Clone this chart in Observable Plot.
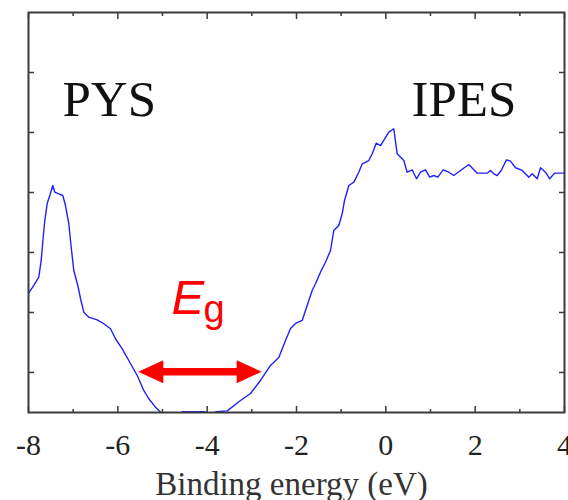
<!DOCTYPE html>
<html>
<head>
<meta charset="utf-8">
<script src="https://cdn.jsdelivr.net/npm/d3@7"></script>
<script src="https://cdn.jsdelivr.net/npm/@observablehq/plot@0.6"></script>
<style>
  html, body { margin: 0; padding: 0; background: #fff; }
  #chart { width: 568px; height: 500px; }
</style>
</head>
<body>
<div id="chart"></div>
<script>
// Spectrum (binding energy in eV, intensity in arbitrary units)
const energy = [
  -8, -7.881, -7.769, -7.716, -7.671, -7.635, -7.581, -7.523, -7.456, -7.411,
  -7.322, -7.232, -7.172, -7.098, -7.044, -6.986, -6.896, -6.836, -6.762, -6.65,
  -6.462, -6.314, -6.164, -6.052, -5.902, -5.755, -5.566, -5.419, -5.307, -5.157,
  -5.045, -4.8, -4.55, -4.05, -3.95, -3.8, -3.551, -3.254, -3.03, -2.806,
  -2.582, -2.396, -2.246, -2.134, -2.022, -1.872, -1.761, -1.649, -1.575, -1.463,
  -1.351, -1.239, -1.165, -1.053, -0.977, -0.925, -0.829, -0.717, -0.605, -0.529,
  -0.381, -0.305, -0.216, -0.119, 0.066, 0.178, 0.254, 0.402, 0.477, 0.59,
  0.687, 0.776, 0.888, 0.984, 1.074, 1.163, 1.284, 1.41, 1.522, 1.672,
  1.858, 2.045, 2.269, 2.343, 2.417, 2.493, 2.583, 2.701, 2.791, 2.903,
  3.053, 3.201, 3.277, 3.389, 3.463, 3.575, 3.671, 3.776, 4.0
];
const intensity = [
  1.317, 1.45, 1.588, 1.867, 2.255, 2.533, 2.817, 2.95, 3.117, 3.005,
  2.978, 2.95, 2.783, 2.483, 2.088, 1.7, 1.45, 1.233, 1.005, 0.922,
  0.878, 0.812, 0.728, 0.562, 0.395, 0.2, -0.05, -0.3, -0.438, -0.578,
  -0.66, -0.75, -0.655, -0.655, -0.72, -0.655, -0.64, -0.467, -0.35, -0.133,
  0.117, 0.25, 0.533, 0.733, 0.817, 0.867, 1.117, 1.367, 1.478, 1.672,
  1.838, 2.033, 2.367, 2.45, 2.645, 2.867, 3.117, 3.172, 3.338, 3.478,
  3.533, 3.645, 3.822, 3.783, 4.005, 4.062, 3.645, 3.533, 3.338, 3.378,
  3.228, 3.338, 3.378, 3.255, 3.283, 3.255, 3.378, 3.338, 3.283, 3.367,
  3.467, 3.322, 3.322, 3.367, 3.312, 3.283, 3.367, 3.545, 3.522, 3.412,
  3.367, 3.255, 3.312, 3.228, 3.412, 3.338, 3.228, 3.322, 3.322
];

// Axes
const xDomain = [-8, 4];
const yDomain = [-0.667, 6];
const xMajorTicks = [-8, -6, -4, -2, 0, 2, 4];
const xMinorTicks = [-7, -5, -3, -1, 1, 3];
const yTicks = [0, 1, 2, 3, 4, 5];
const xLabel = "Binding energy (eV)";

// Annotations (data coordinates)
const regionLabels = ["PYS", "IPES"];
const regionLabelX = [-7.24, 0.575];
const regionLabelY = [4.283, 4.283];
const gapSymbol = "E";
const gapSubscript = "g";
const gapSymbolPos = [-4.80, 0.983];
const gapSubscriptPos = [-4.08, 0.843];
const gapArrowFrom = -5.531;
const gapArrowTo = -2.768;
const gapArrowLevel = 0.005;

const spectrum = energy.map((e, i) => ({energy: e, intensity: intensity[i]}));
const regions = regionLabels.map((t, i) => ({text: t, x: regionLabelX[i], y: regionLabelY[i]}));

const serif = "'Liberation Serif', 'Times New Roman', Times, serif";
const sans = "'Liberation Sans', Arial, Helvetica, sans-serif";
const axisColor = "#3a3a3a";

function gapArrow(index, scales) {
  const x1 = scales.x(gapArrowFrom), x2 = scales.x(gapArrowTo), yy = scales.y(gapArrowLevel);
  const h = 25, hw = 11.5, sw = 3.8;
  const d = `M${x1},${yy}L${x1 + h},${yy - hw}L${x1 + h},${yy - sw}L${x2 - h},${yy - sw}L${x2 - h},${yy - hw}L${x2},${yy}L${x2 - h},${yy + hw}L${x2 - h},${yy + sw}L${x1 + h},${yy + sw}L${x1 + h},${yy + hw}Z`;
  return d3.create("svg:path").attr("d", d).attr("fill", "#ff0000").node();
}

const chart = Plot.plot({
  width: 568,
  height: 500,
  marginLeft: 28,
  marginRight: 4,
  marginTop: 12,
  marginBottom: 88,
  style: {background: "#fff", fontFamily: serif, color: axisColor},
  x: {domain: xDomain, axis: null},
  y: {domain: yDomain, axis: null},
  marks: [
    // inward ticks, all four sides
    Plot.axisX({anchor: "bottom", ticks: xMajorTicks, tickSize: 6, dy: -6, tickFormat: () => "", label: null, stroke: axisColor, strokeWidth: 1.5}),
    Plot.axisX({anchor: "bottom", ticks: xMinorTicks, tickSize: 3, dy: -3, tickFormat: () => "", label: null, stroke: axisColor, strokeWidth: 1.5}),
    Plot.axisX({anchor: "top", ticks: xMajorTicks, tickSize: 6, dy: 6, tickFormat: () => "", label: null, stroke: axisColor, strokeWidth: 1.5}),
    Plot.axisX({anchor: "top", ticks: xMinorTicks, tickSize: 3, dy: 3, tickFormat: () => "", label: null, stroke: axisColor, strokeWidth: 1.5}),
    Plot.axisY({anchor: "left", ticks: yTicks, tickSize: 6, dx: 6, tickFormat: () => "", label: null, stroke: axisColor, strokeWidth: 1.5}),
    Plot.axisY({anchor: "right", ticks: yTicks, tickSize: 6, dx: -6, tickFormat: () => "", label: null, stroke: axisColor, strokeWidth: 1.5}),
    // tick labels
    Plot.text(xMajorTicks, {x: d => d, text: d => String(d), frameAnchor: "bottom", lineAnchor: "bottom", dy: 42, fontSize: 30, fontFamily: serif, fill: "#222"}),
    // axis title
    Plot.text([xLabel], {text: d => d, frameAnchor: "bottom", lineAnchor: "bottom", dy: 82, dx: -5, fontSize: 33, fontFamily: serif, fill: "#333"}),
    // spectrum
    Plot.line(spectrum, {x: "energy", y: "intensity", stroke: "#2020ff", strokeWidth: 1.4, clip: true}),
    Plot.frame({stroke: axisColor, strokeWidth: 2}),
    // region labels
    Plot.text(regions, {x: "x", y: "y", text: "text", textAnchor: "start", lineAnchor: "bottom", fontSize: 51, fontFamily: serif, fill: "#111"}),
    // band gap
    Plot.text([gapSymbol], {x: gapSymbolPos[0], y: gapSymbolPos[1], text: d => d, textAnchor: "start", lineAnchor: "bottom", fontSize: 49, fontStyle: "italic", fontFamily: sans, fill: "#ff0000"}),
    Plot.text([gapSubscript], {x: gapSubscriptPos[0], y: gapSubscriptPos[1], text: d => d, textAnchor: "start", lineAnchor: "bottom", fontSize: 38, fontFamily: sans, fill: "#ff0000"}),
    gapArrow
  ]
});
document.getElementById("chart").appendChild(chart);
</script>
</body>
</html>
